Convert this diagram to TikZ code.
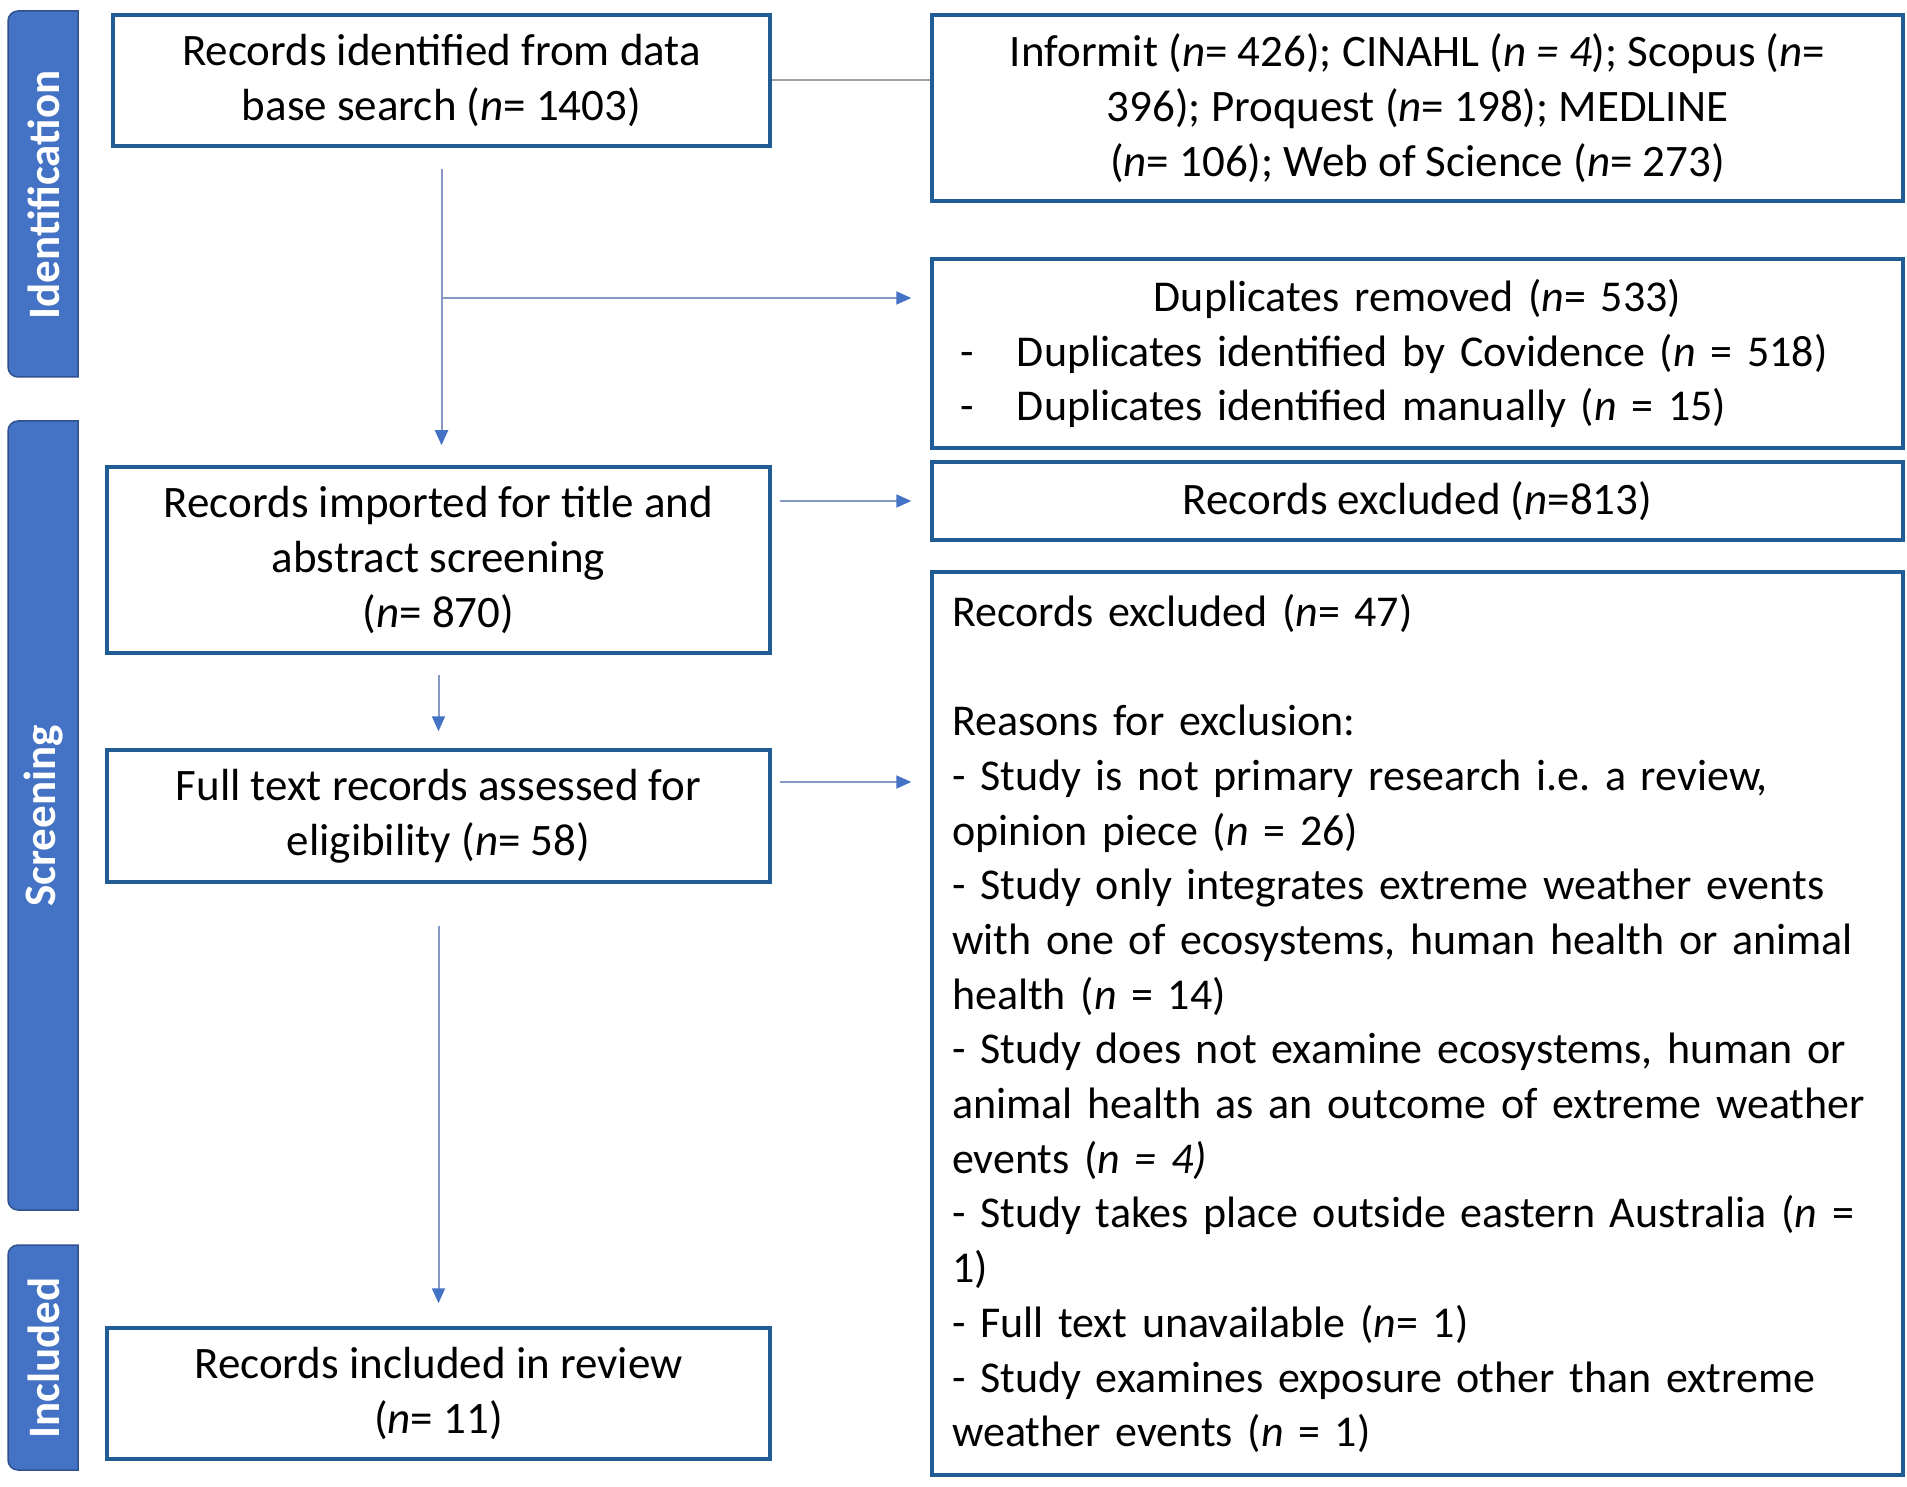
\documentclass[tikz,border=0pt]{standalone}
\usepackage{fontspec}
\setmainfont{Carlito}
\usetikzlibrary{arrows.meta}
\definecolor{bandblue}{RGB}{68,114,196}
\definecolor{bandedge}{RGB}{47,82,143}
\definecolor{boxblue}{RGB}{32,92,150}
\definecolor{linecol}{RGB}{135,152,196}
\definecolor{tipblue}{RGB}{68,114,196}
\definecolor{grayline}{RGB}{160,160,160}
\newcommand{\mainfs}{\fontsize{45}{54.7}\selectfont\frenchspacing}
\newcommand{\smallfs}{\fontsize{44}{54.7}\selectfont\frenchspacing}
\newcommand{\bandfs}{\fontsize{45}{54}\selectfont\bfseries}
\hfuzz=2000pt
\begin{document}
\begin{tikzpicture}[x=1pt,y=-1pt,
  box/.style={draw=boxblue, line width=3.5pt, inner sep=0pt, align=center, font=\mainfs, text=black},
  band/.style={fill=bandblue, draw=bandedge, line width=1.5pt},
  bandtxt/.style={font=\bandfs, text=white, rotate=90, inner sep=0pt},
  arr/.style={draw=linecol, line width=2pt, -{Triangle[length=15pt,width=13pt,color=tipblue,fill=tipblue]}},
  gline/.style={draw=grayline, line width=2pt}]
\useasboundingbox (0,0) rectangle (1907,1487);
% phase bands
\path[band] (78,11) -- (18,11) .. controls (12.5,11) and (8,15.5) .. (8,21) -- (8,367) .. controls (8,372.5) and (12.5,377) .. (18,377) -- (78,377) -- cycle;
\path[band] (78,421) -- (18,421) .. controls (12.5,421) and (8,425.5) .. (8,431) -- (8,1200) .. controls (8,1205.5) and (12.5,1210) .. (18,1210) -- (78,1210) -- cycle;
\path[band] (78,1245) -- (18,1245) .. controls (12.5,1245) and (8,1249.5) .. (8,1255) -- (8,1460) .. controls (8,1465.5) and (12.5,1470) .. (18,1470) -- (78,1470) -- cycle;
\node[bandtxt] (tid) at (44,195) {Identification};
\node[bandtxt] (tsc) at (44,816) {Screening};
\node[bandtxt] (tin) at (44,1358) {Included};
% boxes
\node[box, minimum width=657pt, minimum height=131pt] (b1) at (441.5,80.5)
  {Records identified from data\\ base search (\textit{n}= 1403)};
\node[box, minimum width=971pt, minimum height=186pt] (r1) at (1417.5,108)
  {Informit (\textit{n}= 426); CINAHL (\textit{n = 4}); Scopus (\textit{n}=\\
   396); Proquest (\textit{n}= 198); MEDLINE\\
   (\textit{n}= 106); Web of Science (\textit{n}= 273)};
\node[box, font=\smallfs, align=left, text width=915pt, minimum width=971pt, minimum height=189pt] (r2) at (1417.5,353.5)
  {\makebox[915pt][c]{Duplicates removed (\textit{n}= 533)}\\
   \makebox[57pt][l]{-}Duplicates identified by Covidence (\textit{n} = 518)\\
   \makebox[57pt][l]{-}Duplicates identified manually (\textit{n} = 15)};
\node[box, minimum width=663pt, minimum height=186pt] (b3) at (438.5,560)
  {Records imported for title and\\ abstract screening\\ (\textit{n}= 870)};
\node[box, minimum width=971pt, minimum height=78pt] (r3) at (1417.5,501)
  {Records excluded (\textit{n}=813)};
\node[box, minimum width=663pt, minimum height=132pt] (b4) at (438.5,816)
  {Full text records assessed for\\ eligibility (\textit{n}= 58)};
\node[box, font=\smallfs, align=left, text width=931pt, minimum width=971pt, minimum height=903pt] (r4) at (1417.5,1023.5)
  {\mbox{Records excluded (\textit{n}= 47)}\\[54.7pt]
   \mbox{Reasons for exclusion:}\\
   \mbox{- Study is not primary research i.e. a review,}\\
   \mbox{opinion piece (\textit{n} = 26)}\\
   \mbox{- Study only integrates extreme weather events}\\
   \mbox{with one of ecosystems, human health or animal}\\
   \mbox{health (\textit{n} = 14)}\\
   \mbox{- Study does not examine ecosystems, human or}\\
   \mbox{animal health as an outcome of extreme weather}\\
   \mbox{events (\textit{n = 4)}}\\
   \mbox{- Study takes place outside eastern Australia (\textit{n} =}\\
   \mbox{1)}\\
   \mbox{- Full text unavailable (\textit{n}= 1)}\\
   \mbox{- Study examines exposure other than extreme}\\
   \mbox{weather events (\textit{n} = 1)}};
\node[box, minimum width=663pt, minimum height=131pt] (b5) at (438.5,1393.5)
  {Records included in review\\ (\textit{n}= 11)};
% connectors
\draw[gline] (b1.east) -- (b1.east -| r1.west);
\draw[arr, shorten <=21pt, shorten >=20pt] (b1.south) -- (b1.south |- b3.north);
\coordinate (br) at (b1.south |- 0,298);
\draw[arr, shorten >=19pt] (br) -- (br -| r2.west);
\draw[arr, shorten <=8pt, shorten >=19pt] (r3.west -| b3.east) -- (r3.west);
\draw[arr, shorten <=20pt, shorten >=17pt] (b3.south) -- (b4.north);
\draw[arr, shorten <=8pt, shorten >=19pt] ([yshift=34pt]b4.east) -- ([yshift=34pt]b4.east -| r4.west);
\draw[arr, shorten <=42pt, shorten >=23pt] (b4.south) -- (b5.north);
\end{tikzpicture}
\end{document}
